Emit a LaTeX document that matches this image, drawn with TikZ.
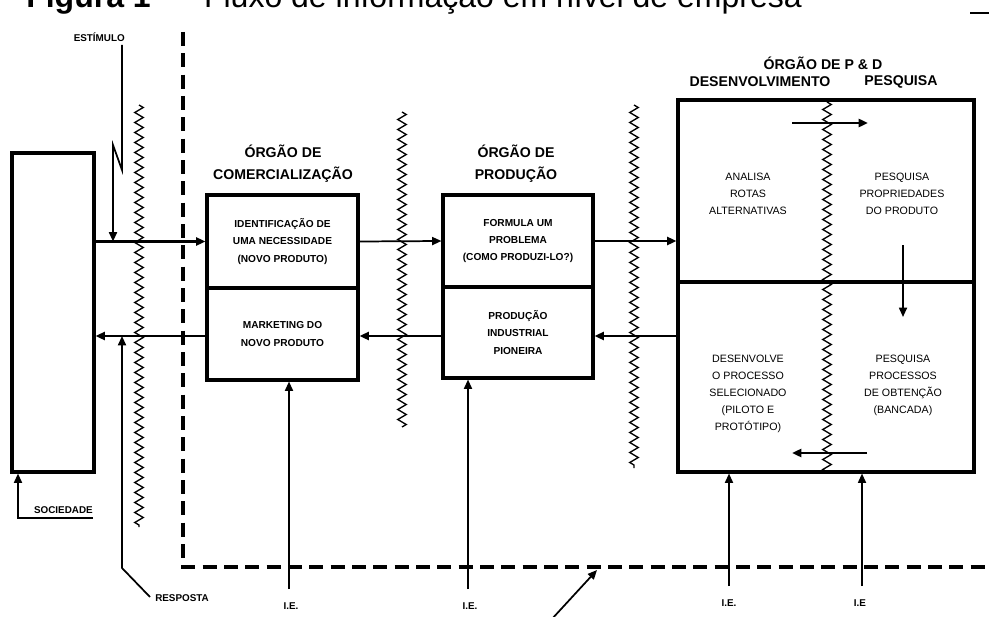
\documentclass[tikz,border=0pt]{standalone}
\usepackage{fontspec}
\setmainfont{Liberation Sans}
\usetikzlibrary{arrows.meta,decorations.pathmorphing,calc}
\def\px{0.75pt}
\begin{document}
\begin{tikzpicture}[x=0.75pt,y=-0.75pt,
  frame/.style={draw,line width=2.3pt,inner sep=0pt},
  boxtext/.style={frame,align=center,font=\fontsize{7.6}{13}\selectfont\bfseries},
  pdtext/.style={align=center,inner sep=0pt,font=\fontsize{8}{12.8}\selectfont},
  header/.style={align=center,inner sep=0pt,font=\fontsize{10.6}{16.5}\selectfont\bfseries},
  small/.style={inner sep=0pt,font=\fontsize{7.4}{9}\selectfont\bfseries},
  arr/.style={line width=1.8pt,-{Triangle[length=7pt,width=6pt]}},
  thinarr/.style={line width=1.3pt,-{Triangle[length=7pt,width=6pt]}},
  wavy/.style={line width=1pt,decorate,decoration={zigzag,segment length=7.5pt,amplitude=3.2pt}},
  border/.style={line width=3pt,dash pattern=on 10.5pt off 5.5pt}]
\useasboundingbox (0,0) rectangle (989,617);
\clip (0,0) rectangle (989,617);

% caption (upper part lies above the page)
\node[anchor=base west,inner sep=0pt,font=\fontsize{24}{28}\selectfont] (caption) at (26,8)
  {\textbf{Figura 1} \ – \ Fluxo de informação em nível de empresa};
\coordinate (rulea) at (970,13);
\coordinate (ruleb) at (989,13);
\draw[line width=1.2pt] (rulea) -- (ruleb);

% enterprise boundary
\coordinate (bnda) at (183,32);
\coordinate (bndb) at (183,567);
\coordinate (bndc) at (992,567);
\draw[border] (bnda) -- (bndb) -- (bndc);

% society
\node[frame,minimum width=82*\px,minimum height=319*\px] (soc) at (53,312.5) {};

% marketing organ
\node[header] (hcom) at (283,164) {ÓRGÃO DE\\COMERCIALIZAÇÃO};
\node[boxtext,minimum width=151*\px,minimum height=93*\px] (comA) at (282.5,241.5)
  {IDENTIFICAÇÃO DE\\UMA NECESSIDADE\\(NOVO PRODUTO)};
\node[boxtext,minimum width=151*\px,minimum height=92*\px] (comB) at (282.5,334)
  {MARKETING DO\\NOVO PRODUTO};

% production organ
\node[header] (hprod) at (516,164) {ÓRGÃO DE\\PRODUÇÃO};
\node[boxtext,minimum width=150*\px,minimum height=92*\px] (prodA) at (518,241)
  {FORMULA UM\\PROBLEMA\\(COMO PRODUZI-LO?)};
\node[boxtext,minimum width=150*\px,minimum height=91*\px] (prodB) at (518,332.5)
  {PRODUÇÃO\\INDUSTRIAL\\PIONEIRA};

% R&D organ
\node[header] (hpd) at (823,63) {ÓRGÃO DE P \& D};
\node[header] (hdev) at (760,82) {DESENVOLVIMENTO};
\node[header] (hpesq) at (901,82) {PESQUISA};
\node[frame,minimum width=296*\px,minimum height=182*\px] (pdA) at (826,191) {};
\node[frame,minimum width=296*\px,minimum height=190*\px] (pdB) at (826,377) {};
\node[pdtext] (rotas) at (748,194) {ANALISA\\ROTAS\\ALTERNATIVAS};
\node[pdtext] (prop) at (902,194) {PESQUISA\\PROPRIEDADES\\DO PRODUTO};
\node[pdtext] (desenv) at (748,394) {DESENVOLVE\\O PROCESSO\\SELECIONADO\\(PILOTO E\\PROTÓTIPO)};
\node[pdtext] (bancada) at (903,385.5) {PESQUISA\\PROCESSOS\\DE OBTENÇÃO\\(BANCADA)};

% interfaces between organs
\coordinate (w1a) at (139,105); \coordinate (w1b) at (139,527);
\coordinate (w2a) at (402,112); \coordinate (w2b) at (402,427);
\coordinate (w3a) at (634,105); \coordinate (w3b) at (634,468);
\coordinate (w4a) at (827,102); \coordinate (w4b) at (827,472);
\draw[wavy] (w1a) -- (w1b);
\draw[wavy] (w2a) -- (w2b);
\draw[wavy] (w3a) -- (w3b);
\draw[wavy] (w4a) -- (w4b);

% forward and return flows
\coordinate (back) at (0,336);
\draw[arr] (soc.east |- comA.west) -- (comA.west);
\draw[thinarr] (comA.east) -- (prodA.west);
\draw[arr] (prodA.east) -- (pdA.west |- prodA.east);
\draw[arr] (pdB.west |- back) -- (prodB.east |- back);
\draw[arr] (prodB.west |- back) -- (comB.east |- back);
\draw[arr] (comB.west |- back) -- (soc.east |- back);

% stimulus
\node[small,anchor=base east] (est) at (125,42) {ESTÍMULO};
\coordinate (sta) at (122,45);
\coordinate (stb) at (122,170);
\coordinate (stc) at (113,145);
\draw[thinarr] (sta) -- (stb) -- (stc) -- (stc |- comA.west);

% response
\node[small,anchor=west] (resp) at (155,598) {RESPOSTA};
\coordinate (rsa) at (150,597);
\coordinate (rsb) at (122,568);
\draw[thinarr] (rsa) -- (rsb) -- (rsb |- back);

% society feedback
\node[small,anchor=base east] (socl) at (93,513) {SOCIEDADE};
\coordinate (sca) at (93,518);
\coordinate (scb) at (18,518);
\draw[thinarr] (sca) -- (scb) -- (scb |- soc.south);

% R&D internal flows
\coordinate (ra) at (792,123); \coordinate (rb) at (868,123);
\draw[arr] (ra) -- (rb);
\coordinate (rc) at (903,245); \coordinate (rd) at (903,317);
\draw[thinarr] (rc) -- (rd);
\coordinate (re) at (867,453); \coordinate (rf) at (792,453);
\draw[arr] (re) -- (rf);

% external information inputs
\node[small] (ie1) at (291,606) {I.E.};
\node[small] (ie2) at (470,606) {I.E.};
\node[small] (ie3) at (729,603) {I.E.};
\node[small] (ie4) at (860,603) {I.E};
\draw[thinarr] ([yshift=10pt]ie1.north -| 289,0) -- (289,0 |- comB.south);
\draw[thinarr] ([yshift=10pt]ie2.north -| 468,0) -- (468,0 |- prodB.south);
\draw[thinarr] ([yshift=10pt]ie3.north -| 729,0) -- (729,0 |- pdB.south);
\draw[thinarr] ([yshift=10pt]ie4.north -| 862,0) -- (862,0 |- pdB.south);

% pointer to the boundary
\coordinate (pa) at (551,620);
\coordinate (pb) at (597,570);
\draw[thinarr] (pa) -- (pb);
\end{tikzpicture}
\end{document}
